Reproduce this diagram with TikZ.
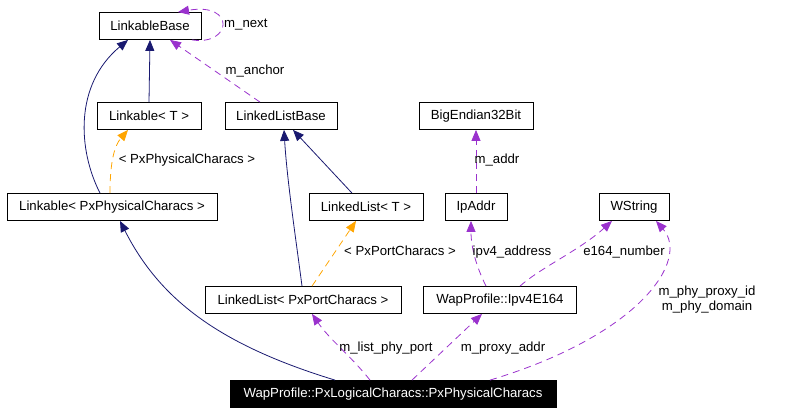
\documentclass[tikz,border=0pt]{standalone}
\usepackage{fontspec}
\setmainfont{Liberation Sans}
\usetikzlibrary{arrows.meta}
\definecolor{inhnavy}{RGB}{25, 25, 112}
\definecolor{usepurple}{RGB}{154, 50, 205}
\definecolor{tmplorange}{RGB}{255, 165, 0}

\begin{document}
\begin{tikzpicture}[x=1pt, y=-1pt,
    cls/.style={draw=black, line width=0.8pt, fill=white, minimum height=27pt, inner sep=0pt, font=\fontsize{13.2}{15}\selectfont},
    focus/.style={cls, fill=black, text=white},
    inh/.style={draw=inhnavy, line width=0.8pt, -{Triangle[length=11pt, width=9pt]}},
    usage/.style={draw=usepurple, line width=0.8pt, dash pattern=on 7pt off 5pt, -{Triangle[length=11pt, width=9pt, fill=usepurple]}},
    tmpl/.style={draw=tmplorange, line width=0.8pt, dash pattern=on 7pt off 5pt, -{Triangle[length=11pt, width=9pt, fill=tmplorange]}},
    lbl/.style={font=\fontsize{13.2}{15}\selectfont, inner sep=0pt, align=center}]
    \useasboundingbox (0,0) rectangle (792,413);

    % Classes
    \node[cls, minimum width=102pt] (base) at (150,26) {LinkableBase};
    \node[cls, minimum width=104pt] (linkT) at (149,116) {Linkable< T >};
    \node[cls, minimum width=112pt] (listbase) at (281,116) {LinkedListBase};
    \node[cls, minimum width=114pt] (bigend) at (476,116) {BigEndian32Bit};
    \node[cls, minimum width=210pt] (linkphys) at (112,207) {Linkable< PxPhysicalCharacs >};
    \node[cls, minimum width=114pt] (listT) at (366,207) {LinkedList< T >};
    \node[cls, minimum width=62pt] (ipaddr) at (476,207) {IpAddr};
    \node[cls, minimum width=70pt] (wstring) at (634,207) {WString};
    \node[cls, minimum width=196pt] (listport) at (303,300) {LinkedList< PxPortCharacs >};
    \node[cls, minimum width=153pt] (ipv4) at (500,300) {WapProfile::Ipv4E164};
    \node[focus, minimum width=326pt] (main) at (393,394) {WapProfile::PxLogicalCharacs::PxPhysicalCharacs};

    % Inheritance
    \draw[inh] (linkT.north) -- (base.south);
    \draw[inh] ([xshift=-12pt]linkphys.north) .. controls (78,150) and (74,85) .. ([xshift=-22pt]base.south);
    \draw[inh] ([xshift=-14pt]listT.north) -- ([xshift=12pt]listbase.south);
    \draw[inh] ([xshift=-1pt]listport.north) .. controls (296,240) and (287,180) .. ([xshift=3pt]listbase.south);
    \draw[inh] ([xshift=-58pt]main.north) .. controls (220,345) and (160,300) .. ([xshift=8pt]linkphys.south);

    % Template instances
    \draw[tmpl] ([xshift=-2pt]linkphys.north) .. controls (110,160) and (115,145) .. ([xshift=-21pt]linkT.south);
    \draw[tmpl] ([xshift=9pt]listport.north) -- ([xshift=-10pt]listT.south);
    \node[lbl] (tlbl1) at (187,160) {< PxPhysicalCharacs >};
    \node[lbl] (tlbl2) at (400,251) {< PxPortCharacs >};

    % Members
    \draw[usage] ([xshift=42pt]base.south) .. controls (232,46) and (236,2) .. ([xshift=28pt]base.north);
    \node[lbl, anchor=west] (lnext) at (224,25) {m\_next};
    \draw[usage] ([xshift=-21pt]listbase.north) -- ([xshift=20pt]base.south);
    \node[lbl] (lanchor) at (255,71) {m\_anchor};
    \draw[usage] (ipaddr.north) -- (bigend.south);
    \node[lbl] (laddr) at (497,160) {m\_addr};
    \draw[usage] ([xshift=-14pt]ipv4.north) .. controls (478,270) and (471,250) .. ([xshift=-5pt]ipaddr.south);
    \node[lbl] (lipv4) at (512,252) {ipv4\_address};
    \draw[usage] ([xshift=20pt]ipv4.north) .. controls (540,268) and (580,250) .. ([xshift=-22pt]wstring.south);
    \node[lbl] (le164) at (624,252) {e164\_number};
    \draw[usage] ([xshift=-23pt]main.north) .. controls (350,355) and (330,340) .. ([xshift=9pt]listport.south);
    \node[lbl] (lport) at (386,348) {m\_list\_phy\_port};
    \draw[usage] ([xshift=19pt]main.north) -- ([xshift=-18pt]ipv4.south);
    \node[lbl] (lproxy) at (503,348) {m\_proxy\_addr};
    \draw[usage] ([xshift=97pt]main.north) .. controls (640,335) and (690,260) .. ([xshift=22pt]wstring.south);
    \node[lbl] (lphy) at (707,300) {m\_phy\_proxy\_id\\m\_phy\_domain};
\end{tikzpicture}
\end{document}
